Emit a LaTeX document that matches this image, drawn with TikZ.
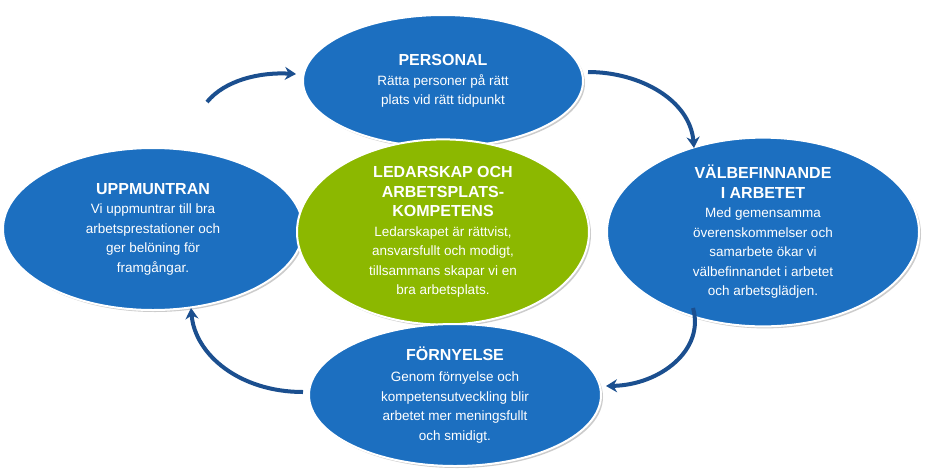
\documentclass[tikz,border=0pt]{standalone}
\usepackage{fontspec}
\setmainfont{Liberation Sans}
\usetikzlibrary{shapes.geometric,arrows.meta,shadows}
\definecolor{eblue}{HTML}{1C6FC0}
\definecolor{egreen}{HTML}{8CB800}
\definecolor{adark}{HTML}{1B4F8F}
\tikzset{
  ell/.style={ellipse,draw=white,line width=2pt,fill=eblue,text=white,align=center,inner sep=0pt,
    font=\fontsize{13.5}{19.5}\selectfont,drop shadow={shadow xshift=2pt,shadow yshift=-2pt,opacity=0.4}},
  cyc/.style={adark,line width=4pt,-{Stealth[length=11pt,width=13pt]}},
}
\newcommand{\ttl}[1]{{\fontsize{16}{20}\selectfont\bfseries #1}}
\begin{document}
\begin{tikzpicture}[x=1pt,y=-1pt]
\useasboundingbox (0,0) rectangle (928,472);
\node[ell,minimum width=280,minimum height=132] (p) at (443,81) {\ttl{PERSONAL}\\Rätta personer på rätt\\plats vid rätt tidpunkt};
\node[ell,minimum width=300,minimum height=162] (u) at (153,229) {\ttl{UPPMUNTRAN}\\Vi uppmuntrar  till bra\\arbetsprestationer och\\ger belöning för\\framgångar.};
\node[ell,fill=egreen,minimum width=292,minimum height=160] (l) at (443,232) {\ttl{LEDARSKAP OCH}\\\ttl{ARBETSPLATS-}\\\ttl{KOMPETENS}\\Ledarskapet är rättvist,\\ansvarsfullt  och modigt,\\tillsammans  skapar vi en\\bra arbetsplats.};
\node[ell,minimum width=312,minimum height=172] (v) at (763,232) {\ttl{VÄLBEFINNANDE}\\\ttl{I ARBETET}\\Med gemensamma\\överenskommelser  och\\samarbete ökar vi\\välbefinnandet  i arbetet\\och arbetsglädjen.};
\node[ell,minimum width=292,minimum height=142] (f) at (455,395) {\ttl{FÖRNYELSE}\\[2pt]Genom förnyelse  och\\kompetensutveckling  blir\\arbetet mer meningsfullt\\och smidigt.};
\coordinate (a1) at (207,102); \coordinate (b1) at (296,74);
\coordinate (a2) at (588,72); \coordinate (b2) at (694,148);
\coordinate (a3) at (693,308); \coordinate (b3) at (606,386);
\coordinate (a4) at (303,392); \coordinate (b4) at (191,308);
\draw[cyc] (a1) .. controls (225,80) and (260,72) .. (b1);
\draw[cyc] (a2) .. controls (640,72) and (690,100) .. (b2);
\draw[cyc] (a3) .. controls (705,350) and (660,385) .. (b3);
\draw[cyc] (a4) .. controls (240,392) and (195,355) .. (b4);
\end{tikzpicture}
\end{document}
